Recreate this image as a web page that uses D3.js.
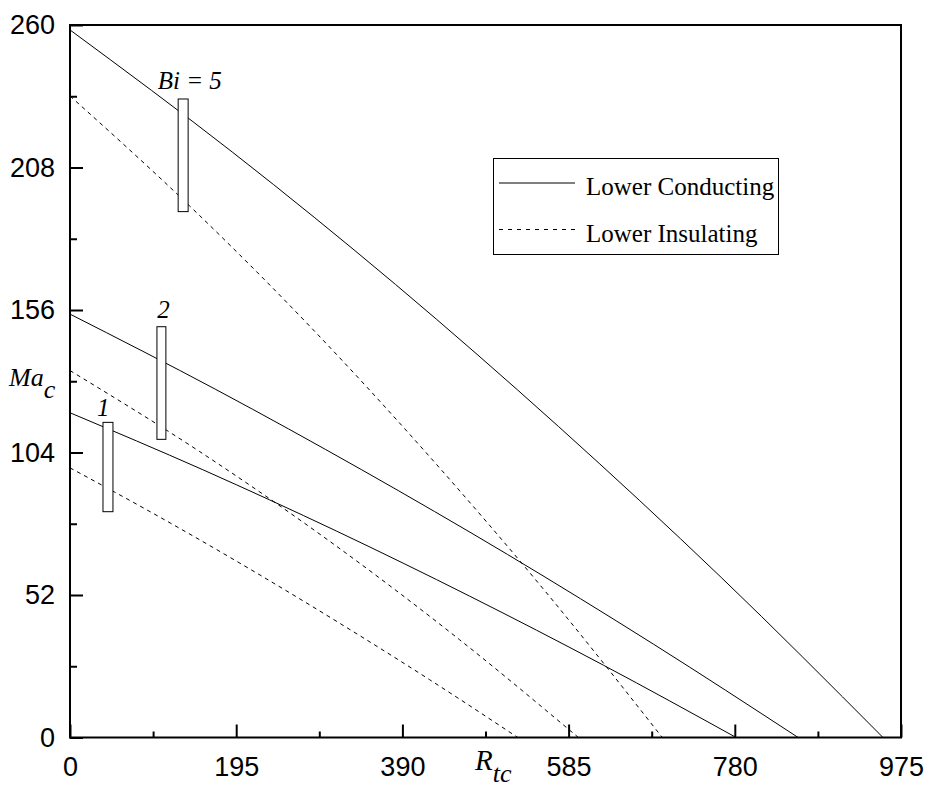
<!DOCTYPE html>
<html>
<head>
<meta charset="utf-8">
<script src="https://cdn.jsdelivr.net/npm/d3@7"></script>
<style>
  html, body { margin: 0; padding: 0; background: #fff; }
  svg { display: block; }
  .tick text { font-family: "Liberation Sans", Arial, sans-serif; font-size: 27px; fill: #000; }
  .serif { font-family: "Liberation Serif", "Times New Roman", serif; fill: #000; }
</style>
</head>
<body>
<svg id="chart" width="930" height="787"></svg>
<script>
// Critical Marangoni number Ma_c versus R_tc for three Biot numbers,
// with a conducting (solid) or insulating (dashed) lower boundary.
const bi5CondX = [0, 191.0, 382.0, 573.1, 764.1, 953.9];
const bi5CondY = [258.2, 213.5, 165.3, 113.5, 58.4, 0];
const bi5InsX  = [0, 140.6, 281.3, 421.9, 562.5, 694.9];
const bi5InsY  = [234.1, 193.9, 150.1, 102.5, 51.5, 0];
const bi2CondX = [0, 171.1, 342.2, 513.3, 684.4, 854.3];
const bi2CondY = [154.5, 127.0, 97.7, 66.8, 34.1, 0];
const bi2InsX  = [0, 152.3, 304.7, 457.0, 596.5];
const bi2InsY  = [133.9, 104.3, 71.6, 35.7, 0];
const bi1CondX = [0, 155.9, 312.9, 468.8, 625.8, 781.6];
const bi1CondY = [118.5, 97.7, 75.3, 51.6, 26.4, 0];
const bi1InsX  = [0, 105.5, 210.9, 316.4, 421.9, 525.4];
const bi1InsY  = [98.4, 80.4, 61.5, 41.7, 21.1, 0];

// Bracket boxes grouping each Bi pair: [x0, x1, yTop, yBottom] and label
const biLabels   = ["Bi = 5", "2", "1"];
const bracketX0  = [126.9, 102.0, 38.7];
const bracketX1  = [138.6, 112.5, 50.4];
const bracketTop = [233.0, 149.9, 115.0];
const bracketBot = [191.9, 108.8, 82.4];
const labelX     = [103.0, 102.5, 31.6];
const labelY     = [236.6, 153.0, 117.3];

const xMajor = [0, 195, 390, 585, 780, 975];
const xMinor = [97.5, 292.5, 487.5, 682.5, 877.5];
const yMajor = [0, 52, 104, 156, 208, 260];
const yMinor = [26, 78, 130, 182, 234];

const legendNames = ["Lower Conducting", "Lower Insulating"];

const svg = d3.select("#chart");
const x = d3.scaleLinear().domain([0, 975]).range([70, 901]);
const y = d3.scaleLinear().domain([0, 260]).range([737.5, 25]);

// axes: ticks point inward, labels outside
const gx = svg.append("g").attr("transform", `translate(0,${y(0)})`)
  .call(d3.axisBottom(x).tickValues(xMajor).tickFormat(d3.format("d"))
        .tickSize(-13).tickPadding(19));
const gxm = svg.append("g").attr("transform", `translate(0,${y(0)})`)
  .call(d3.axisBottom(x).tickValues(xMinor).tickFormat("").tickSize(-6));
const gy = svg.append("g").attr("transform", `translate(${x(0)},0)`)
  .call(d3.axisLeft(y).tickValues(yMajor).tickFormat(d3.format("d"))
        .tickSize(-13).tickPadding(15));
const gym = svg.append("g").attr("transform", `translate(${x(0)},0)`)
  .call(d3.axisLeft(y).tickValues(yMinor).tickFormat("").tickSize(-7));
[gx, gxm, gy, gym].forEach(g => {
  g.select(".domain").remove();
  g.selectAll(".tick line").attr("stroke", "#000").attr("stroke-width", 2);
});

// series curves
const series = [
  [bi5CondX, bi5CondY, false], [bi5InsX, bi5InsY, true],
  [bi2CondX, bi2CondY, false], [bi2InsX, bi2InsY, true],
  [bi1CondX, bi1CondY, false], [bi1InsX, bi1InsY, true]
];
const line = d3.line().x(d => x(d[0])).y(d => y(d[1])).curve(d3.curveMonotoneX);
series.forEach(([xs, ys, dashed]) => {
  svg.append("path")
    .attr("d", line(xs.map((v, i) => [v, ys[i]])))
    .attr("fill", "none")
    .attr("stroke", "#000")
    .attr("stroke-width", 1)
    .attr("stroke-dasharray", dashed ? "4,4" : null);
});

// bracket boxes and Bi labels
biLabels.forEach((lab, i) => {
  svg.append("rect")
    .attr("x", x(bracketX0[i])).attr("y", y(bracketTop[i]))
    .attr("width", x(bracketX1[i]) - x(bracketX0[i]))
    .attr("height", y(bracketBot[i]) - y(bracketTop[i]))
    .attr("fill", "#fff").attr("stroke", "#000").attr("stroke-width", 1);
  svg.append("text").attr("class", "serif")
    .attr("x", x(labelX[i])).attr("y", y(labelY[i]))
    .attr("font-size", 25).attr("font-style", "italic")
    .text(lab);
});

// plot frame
svg.append("rect")
  .attr("x", x(0)).attr("y", y(260))
  .attr("width", x(975) - x(0)).attr("height", y(0) - y(260))
  .attr("fill", "none").attr("stroke", "#000").attr("stroke-width", 2);

// axis titles
const ma = svg.append("text").attr("class", "serif").attr("x", 9).attr("y", 386)
  .attr("font-size", 26).attr("font-style", "italic");
ma.append("tspan").text("Ma");
ma.append("tspan").attr("dy", 12).text("c");

const rt = svg.append("text").attr("class", "serif").attr("x", 475).attr("y", 770)
  .attr("font-size", 29).attr("font-style", "italic");
rt.append("tspan").text("R");
rt.append("tspan").attr("dy", 12).attr("font-size", 26).text("tc");

// legend
const lg = svg.append("g");
lg.append("rect").attr("x", 493.5).attr("y", 158.5).attr("width", 285).attr("height", 96)
  .attr("fill", "#fff").attr("stroke", "#000").attr("stroke-width", 1);
legendNames.forEach((name, i) => {
  const yy = 183 + i * 46.5;
  lg.append("line").attr("x1", 499).attr("x2", 575).attr("y1", yy).attr("y2", yy)
    .attr("stroke", "#000").attr("stroke-width", 1)
    .attr("stroke-dasharray", i === 1 ? "4,5" : null);
  lg.append("text").attr("class", "serif").attr("x", 586).attr("y", yy + 12)
    .attr("font-size", 25).text(name);
});
</script>
</body>
</html>
